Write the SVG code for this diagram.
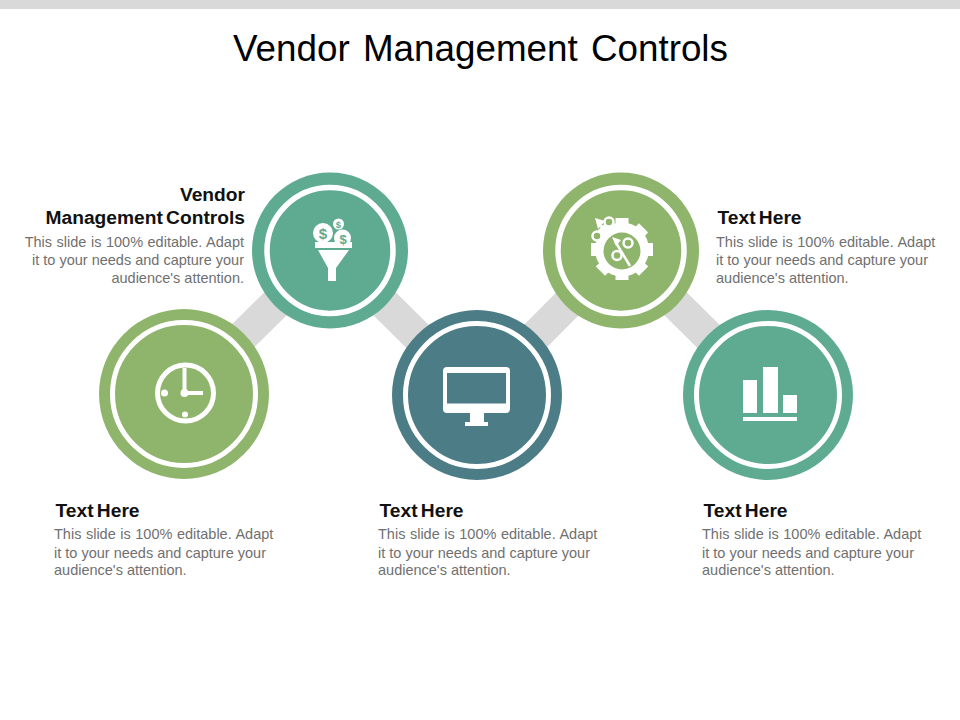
<svg xmlns="http://www.w3.org/2000/svg" width="960" height="720" viewBox="0 0 960 720">
<style>
text{font-family:"Liberation Sans",Arial,sans-serif}
.t{font-size:36.8px;fill:#000}
.h{font-size:19.2px;font-weight:bold;fill:#111;word-spacing:-2px}
.b{font-size:14.500px;fill:#707070}
.e{text-anchor:end}
.ring{fill:none;stroke:#fff;stroke-width:5}
.ring2{fill:none;stroke:#fff;stroke-width:5.500}
.w{fill:#fff}
.s{fill:none;stroke:#fff}
.g{fill:#8fb56d}.tl{fill:#5fab91}.d{fill:#4c7c85}
.link{stroke:#d9d9d9;stroke-width:32;fill:none}
</style>
<rect x="0" y="0" width="960" height="9" fill="#d9d9d9"/>
<text class="t" x="480.500" y="61" text-anchor="middle" word-spacing="3">Vendor Management Controls</text>
<g id="connectors">
<line class="link" x1="184" y1="394" x2="330" y2="250"/>
<line class="link" x1="330" y1="250" x2="477" y2="395"/>
<line class="link" x1="477" y1="395" x2="621" y2="250"/>
<line class="link" x1="621" y1="250" x2="768" y2="395"/>
</g>
<g id="node-clock">
<circle class="g" cx="184" cy="394" r="85"/>
<circle class="ring" cx="184" cy="394" r="71.500"/>
<circle class="s" cx="185.500" cy="393" r="28" stroke-width="5"/>
<path class="s" d="M184.500 368V393H203" stroke-width="4"/>
<circle class="w" cx="184.500" cy="393" r="4"/>
<circle class="w" cx="164.500" cy="393" r="3.500"/>
<circle class="w" cx="185" cy="414.500" r="3"/>
</g>
<g id="node-funnel">
<circle class="tl" cx="330" cy="250.500" r="78"/>
<circle class="ring2" cx="330" cy="250.500" r="63"/>
<circle class="w" cx="323" cy="233" r="10"/>
<circle class="w" cx="338.500" cy="224" r="5.500"/>
<circle class="w" cx="342.500" cy="238" r="8.500"/>
<rect class="w" x="315" y="242" width="37" height="6"/>
<path class="w" d="M318 250H349L336 268V281H328V268Z"/>
<text x="323" y="238.500" font-size="15" font-weight="bold" text-anchor="middle" class="tl">$</text>
<text x="338.500" y="227.500" font-size="9.500" font-weight="bold" text-anchor="middle" class="tl">$</text>
<text x="343" y="243.500" font-size="13" font-weight="bold" text-anchor="middle" class="tl">$</text>
</g>
<g id="node-monitor">
<circle class="d" cx="477" cy="395" r="85"/>
<circle class="ring" cx="477" cy="395" r="71.500"/>
<rect class="w" x="443" y="367" width="67" height="46" rx="4"/>
<rect class="d" x="447" y="373" width="59" height="30.500"/>
<path class="w" d="M470 413H484V422H488V426H465V422H470Z"/>
</g>
<g id="node-gear">
<circle class="g" cx="621" cy="250.500" r="78"/>
<circle class="ring2" cx="621" cy="250.500" r="63"/>
<g class="w">
<rect x="615.500" y="218" width="13" height="62"/>
<rect x="591" y="243" width="62" height="13"/>
<rect x="615.500" y="219" width="13" height="61" transform="rotate(45 622 249.500)"/>
<rect x="615.500" y="219" width="13" height="61" transform="rotate(-45 622 249.500)"/>
</g>
<circle class="w" cx="622" cy="249.500" r="27"/>
<circle class="g" cx="622" cy="251" r="18.500"/>
<g fill="#8fb56d" stroke="#fff" stroke-width="2.500">
<circle cx="628" cy="243" r="4.500"/>
<circle cx="617" cy="255.500" r="4.500"/>
<circle cx="609" cy="222" r="4.500"/>
<circle cx="597" cy="236" r="4.500"/>
</g>
<path class="s" d="M630 266L615 241" stroke-width="2.500"/>
<path class="s" d="M599 224L611 236" stroke-width="3"/>
<path class="w" d="M612 237L621 240L616 246ZM595 218L605 221L598 229Z"/>
</g>
<g id="node-bars">
<circle class="tl" cx="768" cy="395" r="85"/>
<circle class="ring" cx="768" cy="395" r="71.500"/>
<rect class="w" x="743" y="380" width="14" height="33"/>
<rect class="w" x="763" y="367" width="15" height="46"/>
<rect class="w" x="783" y="395" width="14" height="18"/>
<rect class="w" x="743" y="417" width="54" height="4"/>
</g>
<g id="label-vendor">
<text class="h e" x="245" y="200.500">Vendor</text>
<text class="h e" x="245" y="223.500">Management Controls</text>
<g class="b e"><text x="244" y="247" word-spacing="0.500">This slide is 100% editable.  Adapt</text>
<text x="244" y="265">it to your needs and capture your</text>
<text x="244" y="283">audience's attention.</text></g>
</g>
<g id="label-gear">
<text class="h" x="717.500" y="223.500">Text Here</text>
<g class="b"><text x="716" y="247" word-spacing="0.500">This slide is 100% editable.  Adapt</text>
<text x="716" y="265">it to your needs and capture your</text>
<text x="716" y="283">audience's attention.</text></g>
</g>
<g id="label-clock">
<text class="h" x="55.500" y="516.500">Text Here</text>
<g class="b"><text x="54" y="539" word-spacing="0.500">This slide is 100% editable.  Adapt</text>
<text x="54" y="558">it to your needs and capture your</text>
<text x="54" y="575">audience's attention.</text></g>
</g>
<g id="label-monitor">
<text class="h" x="379.500" y="516.500">Text Here</text>
<g class="b"><text x="378" y="539" word-spacing="0.500">This slide is 100% editable.  Adapt</text>
<text x="378" y="558">it to your needs and capture your</text>
<text x="378" y="575">audience's attention.</text></g>
</g>
<g id="label-bars">
<text class="h" x="703.500" y="516.500">Text Here</text>
<g class="b"><text x="702" y="539" word-spacing="0.500">This slide is 100% editable.  Adapt</text>
<text x="702" y="558">it to your needs and capture your</text>
<text x="702" y="575">audience's attention.</text></g>
</g>
</svg>
